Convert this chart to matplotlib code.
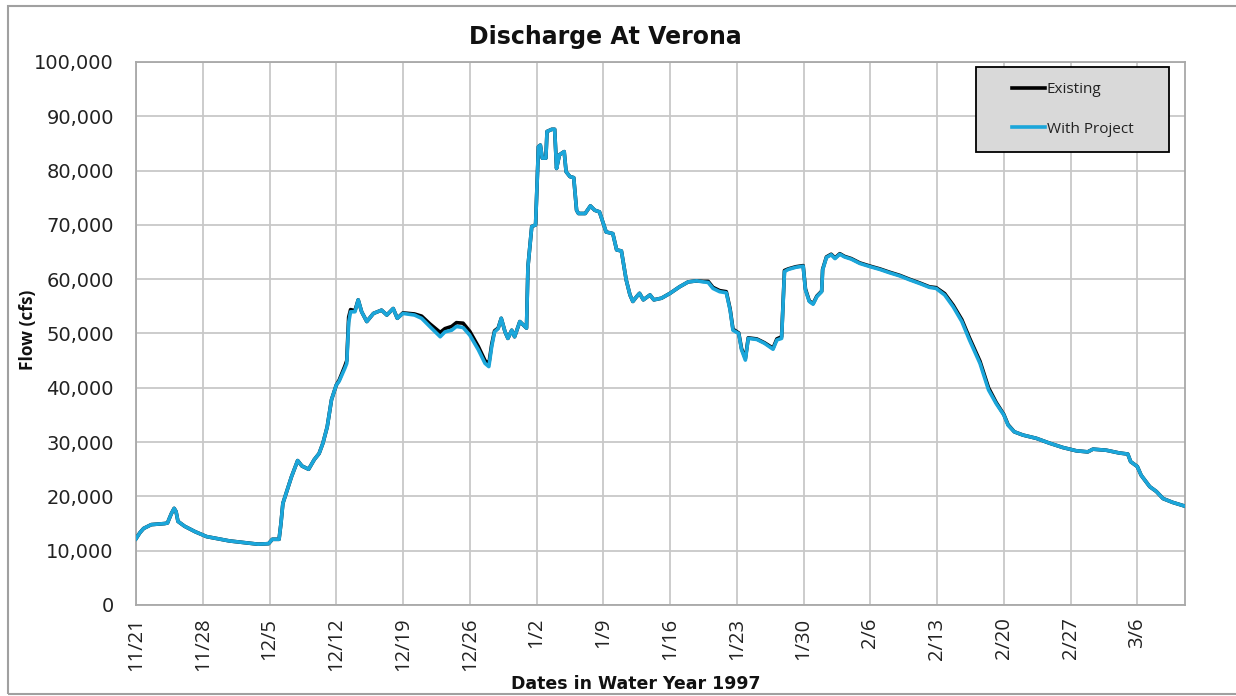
import matplotlib
matplotlib.use("Agg")
import matplotlib.pyplot as plt
from matplotlib.patches import Rectangle
import numpy as np

# ---- data (days after 11/21/1996, flow in 1000 cfs) ----
days = [0.0, 0.4, 0.8, 1.6, 3.0, 3.3, 3.7, 4.0, 4.2, 4.4, 5.1, 6.2, 7.4, 9.8, 12.8, 13.9, 14.3, 15.0,
        15.2, 15.4, 15.8, 16.3, 16.95, 17.4, 18.1, 18.7, 19.2, 19.6, 20.05, 20.5, 21.0, 21.3, 21.9,
        22.1, 22.3, 22.5, 22.96, 23.3, 23.66, 24.2, 24.9, 25.75, 26.3, 26.97, 27.4, 28.0, 29.2, 29.95,
        30.8, 31.9, 32.4, 33.1, 33.6, 34.3, 35.0, 35.9, 36.6, 37.0, 37.3, 37.6, 37.98, 38.3, 38.7,
        39.0, 39.4, 39.7, 40.25, 40.6, 40.95, 41.1, 41.5, 41.9, 42.2, 42.4, 42.6, 42.98, 43.1, 43.6,
        43.9, 44.1, 44.4, 44.9, 45.1, 45.5, 45.9, 46.2, 46.4, 47.1, 47.65, 48.1, 48.6, 49.3, 50.0,
        50.4, 50.9, 51.4, 51.8, 52.1, 52.5, 52.8, 53.2, 53.9, 54.3, 55.1, 56.0, 57.0, 57.9, 58.8,
        59.5, 60.0, 60.5, 61.2, 61.9, 62.3, 62.6, 63.2, 63.5, 63.9, 64.2, 65.1, 65.9, 66.8, 67.2,
        67.7, 68.0, 68.4, 69.2, 69.96, 70.2, 70.6, 71.0, 71.4, 71.9, 72.0, 72.4, 72.9, 73.3, 73.8,
        74.3, 75.0, 75.9, 77.0, 78.0, 79.0, 80.1, 81.1, 82.2, 83.2, 83.9, 84.8, 85.7, 86.6, 87.4,
        88.5, 89.4, 90.2, 91.0, 91.45, 92.1, 93.0, 94.4, 95.8, 97.2, 98.6, 99.8, 100.35, 101.75,
        103.1, 104.0, 104.3, 105.0, 105.4, 106.3, 107.0, 107.7, 108.7, 110.0]

with_project = [12.2, 13.3, 14.1, 14.8, 15.0, 15.1, 16.8, 17.8, 17.2, 15.4, 14.5, 13.5, 12.6, 11.8, 11.2, 11.3, 12.1, 12.1,
                15.0, 18.7, 20.9, 23.6, 26.6, 25.6, 25.0, 26.8, 27.9, 29.8, 32.8, 37.8, 40.5, 41.2, 43.6,
                44.5, 52.0, 54.0, 54.0, 56.2, 54.0, 52.2, 53.7, 54.3, 53.4, 54.6, 52.8, 53.7, 53.4, 52.8,
                51.3, 49.4, 50.3, 50.6, 51.3, 51.1, 49.7, 47.0, 44.5, 43.9, 47.6, 50.3, 50.9, 52.8, 50.3,
                49.1, 50.6, 49.4, 52.2, 51.6, 51.0, 62.3, 69.7, 70.0, 84.4, 84.7, 82.3, 82.3, 87.2, 87.6,
                87.6, 80.4, 82.9, 83.5, 79.8, 78.9, 78.7, 72.7, 72.1, 72.1, 73.5, 72.7, 72.4, 68.7, 68.4,
                65.4, 65.2, 59.9, 57.1, 55.9, 56.8, 57.4, 56.2, 57.1, 56.2, 56.5, 57.4, 58.6, 59.5, 59.7,
                59.5, 59.4, 58.3, 57.7, 57.5, 54.3, 50.6, 50.0, 47.0, 45.1, 49.1, 48.9, 48.2, 47.1, 48.8,
                49.1, 61.4, 61.8, 62.2, 62.4, 58.0, 55.9, 55.4, 56.8, 57.7, 61.7, 64.0, 64.5, 63.8, 64.6,
                64.1, 63.7, 62.9, 62.3, 61.8, 61.2, 60.6, 59.9, 59.2, 58.5, 58.3, 57.1, 54.9, 52.2, 48.8,
                44.5, 39.6, 37.1, 35.0, 33.1, 31.9, 31.3, 30.7, 29.8, 29.0, 28.4, 28.2, 28.7, 28.5,
                28.0, 27.8, 26.4, 25.5, 23.9, 21.8, 20.9, 19.6, 18.9, 18.2]

existing = [12.2, 13.3, 14.1, 14.8, 15.0, 15.1, 16.8, 17.8, 17.2, 15.4, 14.5, 13.5, 12.6, 11.8, 11.2, 11.3, 12.1, 12.1,
            15.0, 18.7, 20.9, 23.6, 26.6, 25.6, 25.0, 26.8, 27.9, 29.8, 32.8, 37.8, 40.5, 41.4, 44.0,
            45.0, 53.0, 54.4, 54.2, 56.2, 54.0, 52.2, 53.7, 54.3, 53.4, 54.6, 52.8, 53.8, 53.6, 53.2,
            51.8, 50.2, 50.9, 51.3, 52.0, 51.9, 50.4, 47.6, 45.0, 44.4, 48.0, 50.5, 51.0, 52.8, 50.3,
            49.1, 50.6, 49.4, 52.2, 51.6, 51.0, 62.3, 69.7, 70.0, 84.4, 84.7, 82.3, 82.3, 87.2, 87.6,
            87.6, 80.4, 82.9, 83.5, 79.8, 78.9, 78.7, 72.7, 72.1, 72.1, 73.5, 72.7, 72.4, 68.7, 68.4,
            65.4, 65.2, 59.9, 57.1, 55.9, 56.8, 57.4, 56.2, 57.1, 56.2, 56.5, 57.4, 58.6, 59.5, 59.7,
            59.6, 59.6, 58.5, 57.9, 57.7, 54.5, 50.8, 50.1, 47.2, 45.4, 49.2, 49.0, 48.3, 47.3, 49.0,
            49.4, 61.6, 61.9, 62.3, 62.5, 58.2, 56.0, 55.5, 56.9, 57.8, 61.8, 64.1, 64.6, 63.9, 64.7,
            64.2, 63.8, 63.0, 62.4, 61.9, 61.3, 60.7, 60.0, 59.3, 58.6, 58.45, 57.35, 55.2, 52.55, 49.2,
            44.9, 40.0, 37.3, 35.1, 33.2, 31.9, 31.3, 30.7, 29.8, 29.0, 28.4, 28.2, 28.7, 28.5,
            28.0, 27.8, 26.4, 25.5, 23.9, 21.8, 20.9, 19.6, 18.9, 18.2]

tick_days = [0, 7, 14, 21, 28, 35, 42, 49, 56, 63, 70, 77, 84, 91, 98, 105]
tick_labels = ["11/21", "11/28", "12/5", "12/12", "12/19", "12/26", "1/2", "1/9", "1/16",
               "1/23", "1/30", "2/6", "2/13", "2/20", "2/27", "3/6"]
y_ticks = [0, 10000, 20000, 30000, 40000, 50000, 60000, 70000, 80000, 90000, 100000]

plt.rcParams['font.family'] = ['Open Sans', 'DejaVu Sans']

W, H = 1236, 696
fig = plt.figure(figsize=(W / 100, H / 100), dpi=100)
ax = fig.add_axes([136 / W, 1 - 605 / H, (1185 - 136) / W, (605 - 62) / H])

x = np.array(days)
ax.plot(x, np.array(existing) * 1000, color='black', lw=2.6, label='Existing', zorder=3)
ax.plot(x, np.array(with_project) * 1000, color='#1BA6DA', lw=2.6, label='With Project', zorder=4)

ax.set_xlim(0, 110)
ax.set_ylim(0, 100000)
ax.set_xticks(tick_days)
ax.set_xticklabels(tick_labels, rotation=90, fontsize=14.5, color='#222222')
ax.set_yticks(y_ticks)
ax.set_yticklabels([f"{v:,}" for v in y_ticks], fontsize=14, family='DejaVu Sans', color='#222222')
ax.tick_params(axis='both', length=0)
ax.tick_params(axis='y', pad=16)
ax.tick_params(axis='x', pad=9)
ax.grid(True, color='#C8C8C8', lw=1.3)
ax.set_axisbelow(True)
for s in ax.spines.values():
    s.set_color('#A8A8A8')
    s.set_linewidth(1.3)

leg = ax.legend(loc='upper right', bbox_to_anchor=((1169 - 136) / (1185 - 136), (605 - 67) / (605 - 62)),
                fontsize=11, frameon=True, fancybox=False, facecolor='#D9D9D9', edgecolor='black',
                handlelength=2.2, handletextpad=0.1, labelspacing=1.6, borderpad=1.0, borderaxespad=0)
leg.get_frame().set_linewidth(1.3)
leg.get_frame().set_alpha(1)
for t in leg.get_texts():
    t.set_color('#222222')
# widen legend box to match reference
fig.canvas.draw()
leg._legend_box.set_width(162)

fig.text(605 / W, 1 - 37 / H, "Discharge At Verona", ha='center', va='center',
         fontsize=17, fontweight='bold', family='DejaVu Sans', color='#111111')
fig.text(636 / W, 1 - 684 / H, "Dates in Water Year 1997", ha='center', va='center',
         fontsize=12.5, fontweight='bold', family='DejaVu Sans', color='#111111')
fig.text(28 / W, 1 - 330 / H, "Flow (cfs)", ha='center', va='center', rotation=90,
         fontsize=12.5, fontweight='bold', color='#111111')

fig.patches.append(Rectangle((8 / W, 1 - 694 / H), 1.0, (694 - 6) / H, transform=fig.transFigure,
                             fill=False, edgecolor='#A0A0A0', lw=1.5))

fig.savefig("out.png", dpi=100)
